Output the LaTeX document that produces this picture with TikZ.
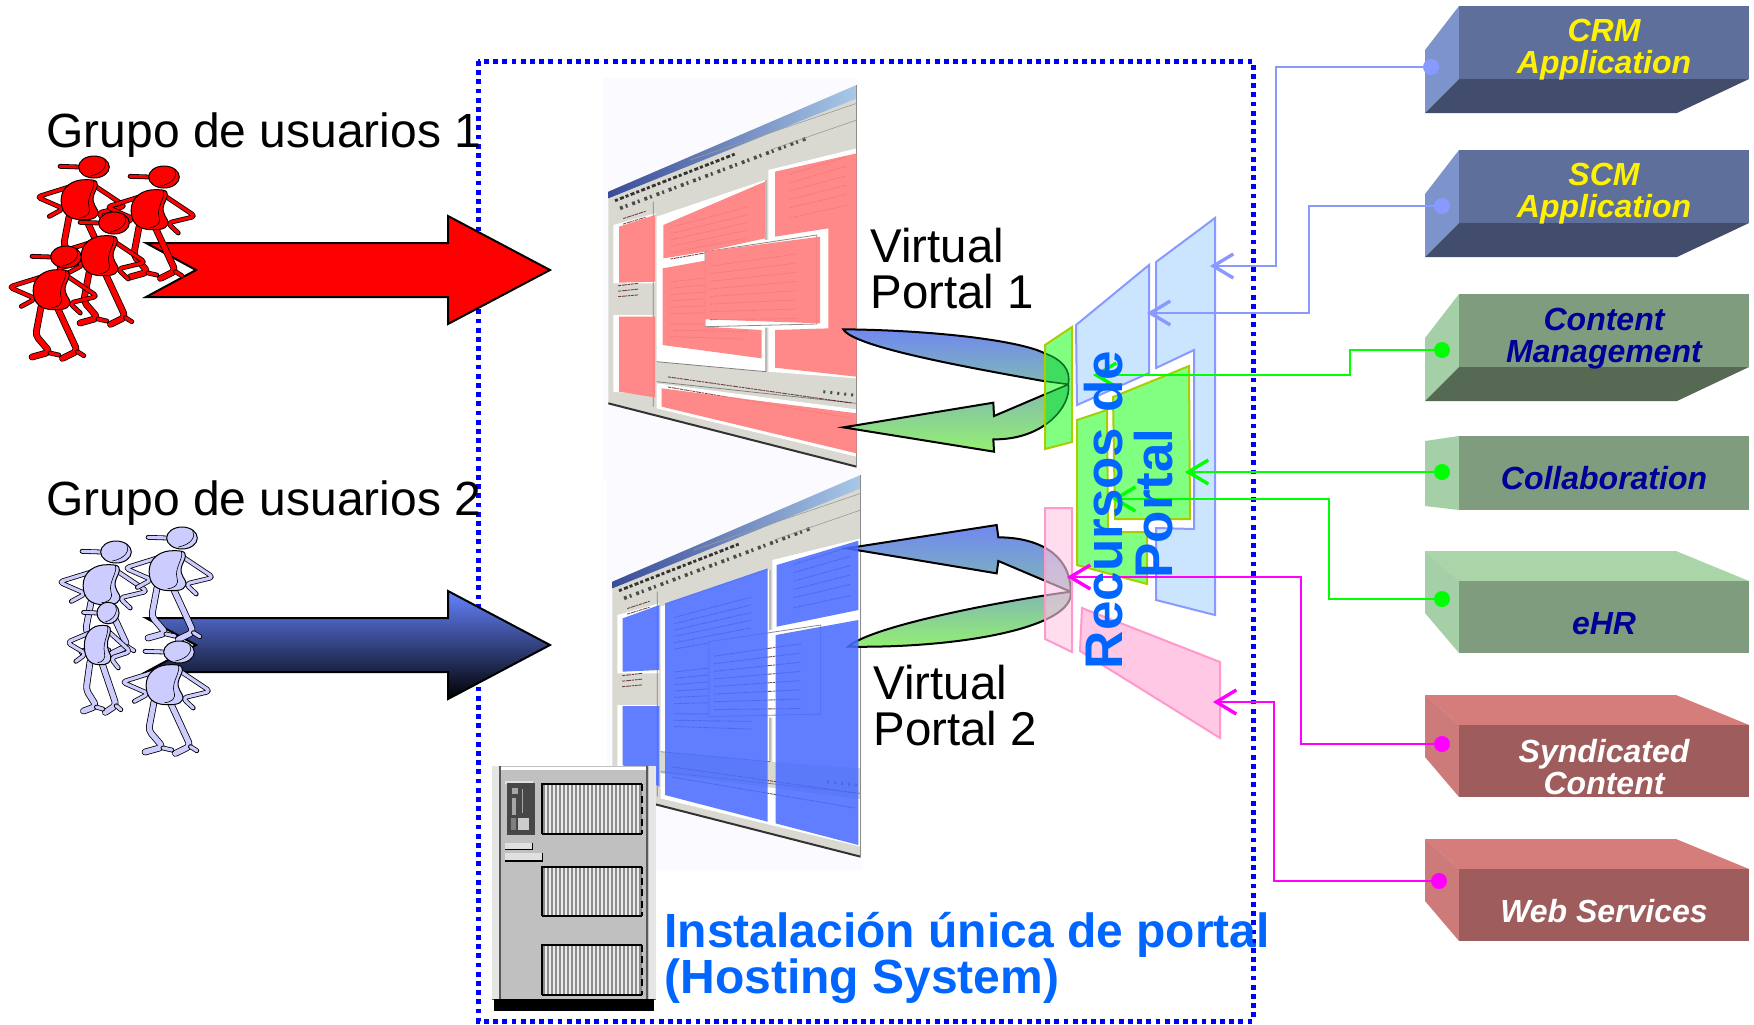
\documentclass[tikz,border=0pt]{standalone}
\usepackage{fontspec}
\setmainfont{Liberation Sans}
\usetikzlibrary{calc,arrows.meta}
\definecolor{boxblue}{HTML}{0000FF}
\definecolor{titleblue}{HTML}{0066FF}
\definecolor{connblue}{HTML}{8899FF}
\definecolor{conngreen}{HTML}{00FF00}
\definecolor{connpink}{HTML}{FF00FF}
\definecolor{palebluef}{HTML}{CCE5FF}
\definecolor{greenf}{HTML}{80FF80}
\definecolor{greenb}{HTML}{AACC00}
\definecolor{pinkf}{HTML}{FFC8E4}
\definecolor{pinkb}{HTML}{FF99CC}
\definecolor{redov}{HTML}{FF8080}
\definecolor{blueov}{HTML}{4A6DFF}
\definecolor{navytext}{HTML}{000099}
\definecolor{persblue}{HTML}{CCCCFF}
\definecolor{bside}{HTML}{7C94CB}
\definecolor{bfront}{HTML}{5E6F9B}
\definecolor{bbot}{HTML}{424D6C}
\definecolor{gside}{HTML}{A5CFA6}
\definecolor{gfront}{HTML}{7F9D7E}
\definecolor{gbot}{HTML}{566952}
\definecolor{gtop}{HTML}{A9D5A9}
\definecolor{rside}{HTML}{CC7A7A}
\definecolor{rfront}{HTML}{9E5C5C}
\definecolor{rtop}{HTML}{D47D7B}
\definecolor{arrA}{HTML}{7088F0}
\definecolor{arrB}{HTML}{80B8B4}
\definecolor{arrC}{HTML}{94F070}
\definecolor{overlapf}{HTML}{40DC60}
\definecolor{overlapd}{HTML}{0A7020}
\definecolor{srvgrey}{HTML}{C0C0C0}
\definecolor{wingrey}{HTML}{D9D9D2}
\definecolor{scrbg}{HTML}{FBFBFF}
\definecolor{titlelight}{HTML}{A8C8E8}
\definecolor{titledark}{HTML}{3A4C98}
\tikzset{
 zoomed/.style={x=0.16667pt,y=-0.16667pt},
 panel/.style={line width=1pt,line join=miter},
 pblue/.style={panel,draw=connblue,fill=palebluef},
 pgreen/.style={panel,draw=greenb,fill=greenf},
 ppink/.style={panel,draw=pinkb,fill=pinkf},
 blocktip/.style={draw=black,line width=1pt,line join=miter},
 conn/.style={line width=1.05pt,-{Straight Barb[length=10pt,width=12pt,line width=1.7pt]}},
 dot/.style={circle,inner sep=0pt,minimum size=8pt},
 appl/.style={font=\fontsize{16}{15.6}\selectfont\bfseries\itshape,align=center,anchor=base},
 biglabel/.style={anchor=base west,align=left,text=black,inner sep=0pt},
 txt/.style={draw=black!75!red,line width=.45pt,opacity=.7,dash pattern=on 1.5pt off .4pt on 2.5pt off .4pt on 1pt off .4pt},
}
\newcommand{\leafA}{(40,388) .. controls (300,390) and (560,420) .. (640,458) .. controls (700,480) and (722,510) .. (715,553) -- (640,543) .. controls (400,500) and (70,440) .. (40,388) -- cycle}
\newcommand{\leafB}{(40,682) -- (490,608) -- (492,648) -- (715,553) .. controls (725,620) and (640,720) .. (490,718) -- (492,755) -- cycle}
% person: x y xscale yscale colour
\newcommand{\person}[5]{%
\begin{scope}[shift={(#1,#2)},x=#3*0.1786pt,y=-#4*0.16667pt,line join=round,line cap=round]
 \tikzset{limb/.style={draw=black,line width=.4pt,double=#5,double distance=1.6pt,rounded corners=2pt},
          leg/.style={draw=black,line width=.4pt,double=#5,double distance=2.6pt,rounded corners=2pt}}
 \draw[limb] (-70,60) -- (-160,90) -- (-85,125) -- (-125,148);
 \draw[limb] (0,55) -- (88,118) -- (10,138) -- (40,168);
 \draw[leg] (-70,150) -- (-85,235) -- (-45,285) -- (-95,300);
 \draw[leg] (-25,150) -- (32,282) -- (-10,304);
 \draw[limb] (32,284) -- (50,296);
 \draw[limb] (-45,288) -- (-20,294);
 \draw[draw=black,line width=.5pt,fill=#5] (-20,38) .. controls (-60,36) and (-92,60) .. (-92,100) .. controls (-92,140) and (-70,158) .. (-35,158) .. controls (0,160) and (15,150) .. (10,130) .. controls (0,110) and (-10,100) .. (5,70) .. controls (15,45) and (10,38) .. (-20,38) -- cycle;
 \draw[black,line width=.3pt] (-2,40) .. controls (6,60) and (-22,90) .. (-14,120) .. controls (-8,140) and (-20,150) .. (-40,152);
 \draw[limb] (-95,-2) -- (-40,0);
 \draw[draw=black,line width=.5pt,fill=#5] (0,0) ellipse [x radius=43,y radius=33];
 \draw[black,line width=.3pt] (30,-22) .. controls (40,-5) and (25,20) .. (-10,27);
\end{scope}}
% base of a screenshot, in zoomed units
\newcommand{\PP}[2]{($($(TL)!#1!(TR)$)!#2!($(BL)!#1!(BR)$)$)}
\newcommand{\screenbase}{%
 \fill[scrbg] (40,25) rectangle (803,1230);
 \coordinate (TL) at (55,365); \coordinate (TR) at (800,45);
 \coordinate (BL) at (55,1000); \coordinate (BR) at (800,1190);
 \fill[wingrey] (TL) -- (TR) -- (BR) -- (BL) -- cycle;
 \shade[left color=titledark,right color=titlelight] (TL) -- (TR) -- (800,85) -- (55,385) -- cycle;
 \fill[white] (200,440) -- (525,330) -- (525,905) -- (200,875) -- cycle;
 \fill[white] (70,465) -- (195,430) -- (195,640) -- (70,640) -- cycle;
 \fill[white] (70,735) -- (190,735) -- (190,975) -- (70,965) -- cycle;
 \fill[white] (535,300) -- (800,235) -- (800,925) -- (535,905) -- cycle;
 \fill[white] (200,940) -- (800,1018) -- (800,1160) -- (200,1015) -- cycle;
 \draw[black!50,line width=.4pt] (190,395) -- (190,1010) (528,330) -- (528,905) (200,875) -- (528,905) (200,935) -- (800,1000);
 \draw[black!80,line width=1.4pt,dash pattern=on 1.5pt off 1.2pt on 2pt off 1pt] (75,392) -- (440,250);
 \draw[black!70,line width=1.8pt,dash pattern=on 1.5pt off 1.5pt on 1pt off 2.5pt] (90,415) -- (650,205);
 \draw[black!40,line width=.3pt] (300,270) -- (800,100) (540,240) -- (800,150);
 \draw[black!70,line width=1.5pt,dash pattern=on 1pt off 2.5pt] (700,965) -- (790,975);
 \draw[black!80,line width=1pt] (55,1000) -- (800,1190);
 \draw[black!45,line width=.6pt] (800,45) -- (800,1190);
 \foreach \v in {.245,.27,.295,.32,.345,.37,.46,.485,.51,.535,.56,.585,.625,.65,.675}{\draw[txt] \PP{.25}{\v} -- \PP{.56}{\v};}
 \foreach \v in {.18,.205,.23,.255,.28,.31}{\draw[txt] \PP{.73}{\v} -- \PP{.96}{\v};}
 \foreach \v in {.15,.175}{\draw[txt] \PP{.06}{\v} -- \PP{.15}{\v};}
 \foreach \v in {.45,.475,.5}{\draw[txt] \PP{.04}{\v} -- \PP{.12}{\v};}
 \foreach \v in {.835,.875}{\draw[txt] \PP{.24}{\v} -- \PP{.98}{\v};}
 \fill[white] (345,545) -- (715,475) -- (715,775) -- (345,770) -- cycle;
 \draw[black!45,line width=.4pt] (345,545) -- (680,495) -- (680,762) -- (345,770) -- cycle;
 \foreach \v in {.42,.447,.474,.501,.528,.555,.582,.61}{\draw[txt] \PP{.41}{\v} -- \PP{.76}{\v};}
}
% bottom-slab application box: y offset, side, front, bottom
\newcommand{\slabbelow}[4]{%
 \fill[#2] (1425,50+#1) -- (1459,6+#1) -- (1459,79+#1) -- (1425,113+#1) -- cycle;
 \fill[#3] (1459,6+#1) rectangle (1749,79+#1);
 \fill[#4] (1459,79+#1) -- (1749,79+#1) -- (1677,113+#1) -- (1425,113+#1) -- cycle;
}
% top-slab application box: y offset, side, front, top
\newcommand{\slababove}[4]{%
 \fill[#4] (1425,551+#1) -- (1676,551+#1) -- (1749,581+#1) -- (1459,581+#1) -- cycle;
 \fill[#2] (1425,551+#1) -- (1459,581+#1) -- (1459,653+#1) -- (1425,613+#1) -- cycle;
 \fill[#3] (1459,581+#1) rectangle (1749,653+#1);
}
\begin{document}
\begin{tikzpicture}[x=0.5pt,y=-0.5pt]
\useasboundingbox (0,0) rectangle (1754,1024);
\fill[white] (0,0) rectangle (1754,1024);
% hosting box
\coordinate (bx1) at (478,61); \coordinate (bx2) at (1253,1021);
\draw[boxblue,line width=2.5pt,dash pattern=on 2.4pt off 2.2pt] (bx1) rectangle (bx2);
% screen 1
\begin{scope}[shift={(590,70)},zoomed]
 \screenbase
 \begin{scope}[opacity=.92]
 \fill[redov] (555,305) -- (800,250) -- (800,920) -- (555,893) -- (555,780) -- (715,775) -- (715,475) -- (555,500) -- cycle;
 \fill[redov] (220,465) -- (525,335) -- (525,505) -- (345,545) -- (220,565) -- cycle;
 \fill[redov] (218,595) -- (345,572) -- (345,770) -- (515,780) -- (515,865) -- (218,825) -- cycle;
 \fill[redov] (345,545) -- (690,500) -- (690,760) -- (345,748) -- cycle;
 \fill[redov] (87,470) -- (195,435) -- (195,635) -- (87,638) -- cycle;
 \fill[redov] (87,740) -- (195,740) -- (195,982) -- (87,965) -- cycle;
 \fill[redov] (215,955) -- (800,1030) -- (800,1150) -- (215,1010) -- cycle;
 \end{scope}
\end{scope}
% block arrows portal 1
\begin{scope}[shift={(830,200)},zoomed]
 \path[blocktip,top color=arrA,bottom color=arrB] \leafA;
 \path[blocktip,top color=arrB,bottom color=arrC] \leafB;
\end{scope}
% screen 2
\begin{scope}[shift={(594,460)},zoomed]
 \screenbase
\end{scope}
% block arrows portal 2
\begin{scope}[shift={(830,480)},zoomed]
 \path[blocktip,top color=arrA,bottom color=arrB]
  (50,205) -- (500,135) -- (505,172) .. controls (620,172) and (722,220) .. (722,335) -- (505,243) -- (500,280) -- cycle;
 \path[blocktip,top color=arrB,bottom color=arrC]
  (55,500) .. controls (120,440) and (500,365) .. (722,335) .. controls (735,440) and (400,505) .. (55,500) -- cycle;
\end{scope}
% blue overlay on screen 2
\begin{scope}[shift={(600,470)},zoomed,opacity=.88]
 \fill[blueov] (68,445) -- (178,405) -- (178,600) -- (68,605) -- cycle;
 \fill[blueov] (68,708) -- (178,708) -- (178,950) -- (68,885) -- cycle;
 \fill[blueov] (195,400) -- (503,295) -- (503,1055) -- (195,975) -- cycle;
 \fill[blueov] (530,285) -- (775,212) -- (775,420) -- (530,470) -- cycle;
 \fill[blueov] (527,495) -- (775,450) -- (775,1125) -- (527,1060) -- cycle;
\end{scope}
% server
\begin{scope}[shift={(470,750)},zoomed]
 \fill[srvgrey] (65,48) rectangle (558,748);
 \fill[white!90!black] (65,48) rectangle (88,748);
 \fill[white!90!black] (536,48) rectangle (558,748);
 \fill[white] (88,52) rectangle (530,60);
 \draw[black!65,line width=.8pt] (90,48) -- (90,748);
 \draw[black!65,line width=1.1pt] (532,48) -- (532,748);
 \draw[black!65,line width=.6pt] (65,748) -- (558,748);
 \fill[black] (72,748) rectangle (553,782);
 \fill[white!88!black] (105,92) rectangle (190,102);
 \fill[black!72] (110,100) rectangle (195,255);
 \fill[black!35] (125,115) rectangle (143,133);
 \fill[black!35] (127,145) rectangle (137,195);
 \fill[black!35] (155,118) rectangle (160,190);
 \fill[black!20] (145,205) rectangle (178,240);
 \fill[black!50] (122,205) rectangle (138,240);
 \fill[white!88!black] (105,278) rectangle (187,297);
 \draw[black,line width=.6pt] (105,298) -- (188,298) -- (188,280);
 \fill[white!88!black] (105,308) rectangle (216,331);
 \draw[black,line width=.6pt] (105,333) -- (218,333) -- (218,310);
 \foreach \ya/\yb in {103/253,350/498,585/735}{
  \fill[black!45] (215,\ya) rectangle (517,\yb);
  \foreach \xx in {228,240,...,510}{\draw[white!92!black,line width=1pt] (\xx,\ya) -- (\xx,\yb);}
  \draw[black,line width=.9pt] (215,\yb) -- (215,\ya) -- (517,\ya);
  \draw[black,line width=.9pt] (215,\yb) -- (517,\yb);
  \draw[black,line width=.9pt,dash pattern=on 3.5pt off 2.2pt] (517,\ya) -- (517,\yb);
 }
\end{scope}
% portal resources
\draw[pblue] (1156,262) -- (1215,218) -- (1215,615) -- (1156,600) -- (1156,528) -- (1194,529) -- (1194,350) -- (1156,368) -- cycle;
\draw[pblue] (1076,325) -- (1149,265) -- (1149,373) -- (1077,405) -- cycle;
\draw[pgreen] (1077,420) -- (1107,410) -- (1108,532) -- (1147,532) -- (1147,584) -- (1077,565) -- cycle;
\draw[pgreen] (1113,397) -- (1189,366) -- (1190,519) -- (1115,519) -- cycle;
% small green panel: the block arrows show through it
\fill[greenf] (1045,345) -- (1072,327) -- (1072,442) -- (1045,449) -- cycle;
\begin{scope}
 \clip (1045,345) -- (1072,327) -- (1072,442) -- (1045,449) -- cycle;
 \begin{scope}[shift={(830,200)},zoomed]
  \path[fill=overlapf,draw=overlapd,line width=.8pt] \leafA;
  \path[fill=overlapf,draw=overlapd,line width=.8pt] \leafB;
 \end{scope}
\end{scope}
\draw[panel,draw=greenb] (1045,345) -- (1072,327) -- (1072,442) -- (1045,449) -- cycle;
\draw[ppink,fill opacity=.62] (1045,508) -- (1072,508) -- (1072,652) -- (1045,639) -- cycle;
\draw[ppink] (1082,608) -- (1220,662) -- (1220,738) -- (1080,651) -- cycle;
% application boxes
\slabbelow{0}{bside}{bfront}{bbot}
\slabbelow{144}{bside}{bfront}{bbot}
\slabbelow{288}{gside}{gfront}{gbot}
\fill[gside] (1425,441) -- (1459,436) -- (1459,510) -- (1425,506) -- cycle;
\fill[gfront] (1459,436) rectangle (1749,510);
\slababove{0}{gside}{gfront}{gtop}
\slababove{144}{rside}{rfront}{rtop}
\slababove{288}{rside}{rfront}{rtop}
\node[appl,text=yellow] (crm) at (1604,73) {CRM\\Application};
\node[appl,text=yellow] (scm) at (1604,217) {SCM\\Application};
\node[appl,text=navytext] (cm) at (1604,362) {Content\\Management};
\node[appl,text=navytext] (collab) at (1604,489) {Collaboration};
\node[appl,text=navytext] (ehr) at (1604,634) {eHR};
\node[appl,text=white] (synd) at (1604,794) {Syndicated\\Content};
\node[appl,text=white] (ws) at (1604,922) {Web Services};
% connectors
\node[dot,fill=connblue] (dcrm) at (1431,67) {};
\node[dot,fill=connblue] (dscm) at (1442,206) {};
\node[dot,fill=conngreen] (dcm) at (1442,350) {};
\node[dot,fill=conngreen] (dcol) at (1442,472) {};
\node[dot,fill=conngreen] (dehr) at (1442,599) {};
\node[dot,fill=connpink] (dsyn) at (1442,744) {};
\node[dot,fill=connpink] (dws) at (1439,881) {};
\coordinate (tcrm) at (1210,266); \coordinate (ccrm) at (1276,266);
\coordinate (tscm) at (1147,313); \coordinate (cscm) at (1309,313);
\coordinate (tcm) at (1093,375); \coordinate (ccm) at (1350,375);
\coordinate (tcol) at (1185,472);
\coordinate (tehr) at (1112,499); \coordinate (cehr) at (1329,499);
\coordinate (tsyn) at (1067,577); \coordinate (csyn) at (1301,577);
\coordinate (tws) at (1213,702); \coordinate (cws) at (1274,702);
\draw[conn,connblue] (dcrm.center) -| (ccrm) -- (tcrm);
\draw[conn,connblue] (dscm.center) -| (cscm) -- (tscm);
\draw[conn,conngreen] (dcm.center) -| (ccm) -- (tcm);
\draw[conn,conngreen] (dcol.center) -- (tcol);
\draw[conn,conngreen] (dehr.center) -| (cehr) -- (tehr);
\draw[conn,connpink] (dsyn.center) -| (csyn) -- (tsyn);
\draw[conn,connpink] (dws.center) -| (cws) -- (tws);
% big arrows and people
\draw[blocktip,fill=red] (146,243) -- (196,270) -- (146,297) -- (448,297) -- (448,324) -- (550,270) -- (448,216) -- (448,243) -- cycle;
\shade[top color=blueov!85!white,middle color=blue!45!black!90,bottom color=black] (146,618) -- (196,645) -- (146,672) -- (448,672) -- (448,699) -- (550,645) -- (448,591) -- (448,618) -- cycle;
\draw[blocktip] (146,618) -- (196,645) -- (146,672) -- (448,672) -- (448,699) -- (550,645) -- (448,591) -- (448,618) -- cycle;
\person{94}{167}{1}{1}{red}
\person{164}{177}{1}{1}{red}
\person{114}{223}{1}{1}{red}
\person{66}{257}{1}{1}{red}
\person{116}{552}{1}{1}{persblue}
\person{182}{538}{1}{1}{persblue}
\person{108}{613}{.72}{.98}{persblue}
\person{179}{652}{1}{1}{persblue}
% labels
\node[biglabel,font=\fontsize{24}{28}\selectfont] (g1) at (46,147) {Grupo de usuarios 1};
\node[biglabel,font=\fontsize{24}{28}\selectfont] (g2) at (46,515) {Grupo de usuarios 2};
\node[biglabel,font=\fontsize{23.7}{23}\selectfont] (v1) at (870,308) {Virtual\\Portal 1};
\node[biglabel,font=\fontsize{23.7}{23}\selectfont] (v2) at (873,745) {Virtual\\Portal 2};
\node[biglabel,font=\fontsize{24}{23}\selectfont\bfseries,text=titleblue] (inst) at (664,993) {Instalación única de portal\\(Hosting System)};
\node[rotate=90,align=center,text=titleblue,font=\fontsize{26.5}{25}\selectfont\bfseries] (rec) at (1129,510) {Recursos de\\\hspace*{6.5pt}Portal};
\end{tikzpicture}
\end{document}
